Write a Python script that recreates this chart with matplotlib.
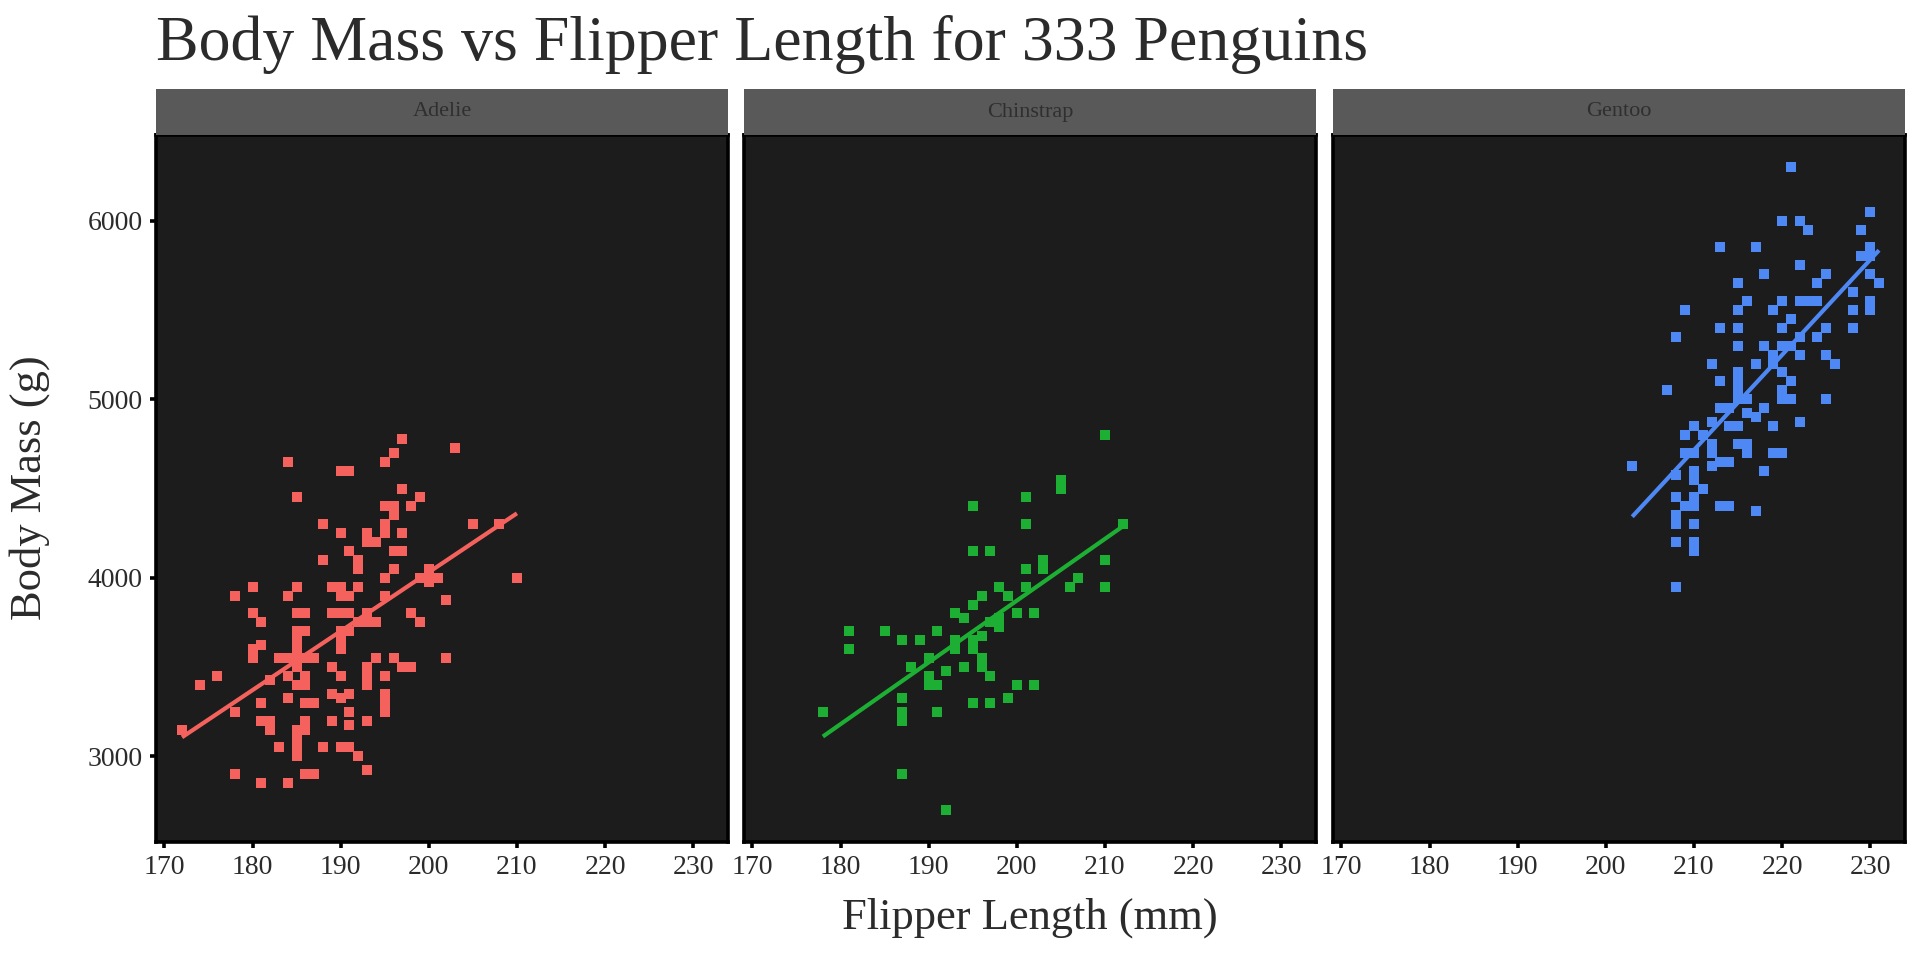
import numpy as np
import matplotlib
matplotlib.use("Agg")
import matplotlib.pyplot as plt

# values (flipper mm, body mass g)
species = ["Adelie", "Chinstrap", "Gentoo"]
colors = ["#F5625D", "#1CAF33", "#4D88F5"]

adelie_flipper = [197, 203, 184, 190, 191, 195, 196, 185, 197, 199, 198, 195, 196, 196,
                  188, 190, 195, 195, 193, 193, 194, 197, 205, 208, 210, 191, 192, 192,
                  188, 196, 197, 196, 195, 200, 199, 200, 201, 200, 202, 195, 180, 178,
                  185, 184, 189, 190, 190, 191, 192, 180, 181, 185, 186, 189, 190, 191,
                  193, 192, 193, 194, 190, 191, 198, 199, 186, 185, 185, 185, 190, 190,
                  180, 180, 181, 183, 184, 185, 186, 187, 184, 185, 186, 186, 194, 196,
                  197, 198, 202, 182, 176, 174, 189, 190, 193, 193, 193, 195, 185, 184,
                  181, 186, 187, 189, 190, 191, 191, 195, 195, 195, 178, 181, 182, 182,
                  185, 186, 186, 185, 185, 189, 191, 193, 183, 188, 190, 191, 192, 185,
                  193, 178, 186, 187, 181, 184, 172]
adelie_mass = [4775, 4725, 4650, 4600, 4600, 4650, 4700, 4450, 4500, 4450, 4400, 4400, 4400, 4350,
               4300, 4250, 4300, 4250, 4250, 4200, 4200, 4250, 4300, 4300, 4000, 4150, 4100, 4050,
               4100, 4150, 4150, 4050, 4000, 4050, 4000, 4000, 4000, 3975, 3875, 3900, 3950, 3900,
               3950, 3900, 3950, 3950, 3900, 3900, 3950, 3800, 3750, 3800, 3800, 3800, 3800, 3800,
               3800, 3750, 3750, 3750, 3700, 3700, 3800, 3750, 3700, 3700, 3650, 3600, 3650, 3600,
               3600, 3550, 3625, 3550, 3550, 3550, 3550, 3550, 3450, 3500, 3450, 3400, 3550, 3550,
               3500, 3500, 3550, 3425, 3450, 3400, 3500, 3450, 3500, 3450, 3400, 3450, 3400, 3325,
               3300, 3300, 3300, 3350, 3325, 3350, 3250, 3350, 3300, 3250, 3250, 3200, 3200, 3150,
               3150, 3200, 3150, 3100, 3050, 3200, 3175, 3200, 3050, 3050, 3050, 3050, 3000, 3000,
               2925, 2900, 2900, 2900, 2850, 2850, 3150]

chinstrap_flipper = [210, 205, 205, 201, 195, 201, 212, 195, 197, 210, 203, 203, 201, 207,
                     206, 210, 201, 198, 199, 196, 195, 193, 194, 198, 197, 200, 202, 198,
                     196, 181, 181, 185, 191, 187, 189, 193, 193, 195, 195, 190, 188, 194,
                     192, 196, 196, 190, 190, 191, 197, 200, 202, 187, 195, 197, 199, 178,
                     187, 187, 191, 187, 192]
chinstrap_mass = [4800, 4550, 4500, 4450, 4400, 4300, 4300, 4150, 4150, 4100, 4100, 4050, 4050, 4000,
                  3950, 3950, 3950, 3950, 3900, 3900, 3850, 3800, 3775, 3775, 3750, 3800, 3800, 3725,
                  3675, 3700, 3600, 3700, 3700, 3650, 3650, 3650, 3600, 3650, 3600, 3550, 3500, 3500,
                  3475, 3550, 3500, 3450, 3400, 3400, 3450, 3400, 3400, 3325, 3300, 3300, 3325, 3250,
                  3250, 3200, 3250, 2900, 2700]

gentoo_flipper = [221, 230, 220, 222, 223, 229, 213, 217, 230, 229, 230, 222, 218, 225,
                  224, 230, 231, 215, 228, 216, 215, 220, 219, 222, 223, 224, 230, 230,
                  228, 209, 221, 220, 213, 215, 225, 224, 228, 208, 215, 218, 219, 220,
                  221, 222, 222, 225, 226, 212, 217, 219, 220, 221, 220, 220, 221, 213,
                  215, 215, 215, 215, 216, 225, 207, 213, 214, 216, 217, 218, 222, 219,
                  212, 210, 214, 215, 209, 211, 215, 216, 216, 212, 212, 209, 210, 219,
                  220, 203, 212, 213, 214, 208, 210, 210, 218, 211, 208, 210, 209, 210,
                  213, 214, 217, 208, 208, 210, 208, 210, 210, 208]
gentoo_mass = [6300, 6050, 6000, 6000, 5950, 5950, 5850, 5850, 5850, 5800, 5800, 5750, 5700, 5700,
               5650, 5700, 5650, 5650, 5600, 5550, 5500, 5550, 5500, 5550, 5550, 5550, 5550, 5500,
               5500, 5500, 5450, 5400, 5400, 5400, 5400, 5350, 5400, 5350, 5300, 5300, 5250, 5300,
               5300, 5350, 5250, 5250, 5200, 5200, 5200, 5200, 5150, 5100, 5050, 5000, 5000, 5100,
               5150, 5100, 5050, 5000, 5000, 5000, 5050, 4950, 4950, 4925, 4900, 4950, 4875, 4850,
               4875, 4850, 4850, 4850, 4800, 4800, 4750, 4750, 4700, 4750, 4700, 4700, 4700, 4700,
               4700, 4625, 4625, 4650, 4650, 4575, 4600, 4550, 4600, 4500, 4450, 4450, 4400, 4400,
               4400, 4400, 4375, 4350, 4300, 4300, 4200, 4200, 4150, 3950]

flippers = [adelie_flipper, chinstrap_flipper, gentoo_flipper]
masses = [adelie_mass, chinstrap_mass, gentoo_mass]

plt.rcParams['font.family'] = ['Liberation Serif', 'DejaVu Serif']
text_col = "#2b2b2b"

fig = plt.figure(figsize=(19.2, 9.6), dpi=100)

ax_left = [156, 744, 1333]
ax_w = 572
ax_top, ax_bot = 135, 842
strip_top = 89

for i, sp in enumerate(species):
    x0 = ax_left[i] / 1920
    ax = fig.add_axes([x0, (960 - ax_bot) / 960, ax_w / 1920, (ax_bot - ax_top) / 960])
    ax.set_facecolor("#1c1c1c")
    f = np.array(flippers[i])
    m = np.array(masses[i])
    ax.plot(f, m, linestyle="none", marker="s", markersize=6.8,
            markeredgewidth=0, color=colors[i], zorder=2)
    # lm fit like geom_smooth(method = "lm")
    k, b = np.polyfit(f, m, 1)
    xs = np.array([f.min(), f.max()])
    ax.plot(xs, k * xs + b, color=colors[i], linewidth=3.0, zorder=3,
            solid_capstyle="butt")
    ax.set_xlim(169.05, 233.95)
    ax.set_ylim(2520, 6480)
    ax.set_xticks([170, 180, 190, 200, 210, 220, 230])
    ax.set_yticks([3000, 4000, 5000, 6000])
    for s in ax.spines.values():
        s.set_color("black")
        s.set_linewidth(2.6)
    ax.tick_params(axis="both", length=4.5, width=2.6, color="black",
                   labelsize=20, labelcolor=text_col, pad=5)
    if i > 0:
        ax.tick_params(axis="y", left=False, labelleft=False)

    # facet strip
    sax = fig.add_axes([x0, (960 - ax_top) / 960, ax_w / 1920, (ax_top - strip_top) / 960])
    sax.set_facecolor("#595959")
    sax.set_xticks([])
    sax.set_yticks([])
    for s in sax.spines.values():
        s.set_visible(False)
    sax.text(0.5, 0.5, sp, ha="center", va="center", fontsize=16,
             color="#2f2f2f", transform=sax.transAxes)

fig.text(156 / 1920, 1 - 60 / 960, "Body Mass vs Flipper Length for 333 Penguins",
         fontsize=46, color=text_col, ha="left", va="baseline")
fig.text(1030 / 1920, 1 - 918 / 960, "Flipper Length (mm)", fontsize=32,
         color=text_col, ha="center", va="center")
fig.text(30 / 1920, 1 - 488 / 960, "Body Mass (g)", fontsize=32, rotation=90,
         color=text_col, ha="center", va="center")

fig.savefig("out.png", dpi=100, facecolor="white")
